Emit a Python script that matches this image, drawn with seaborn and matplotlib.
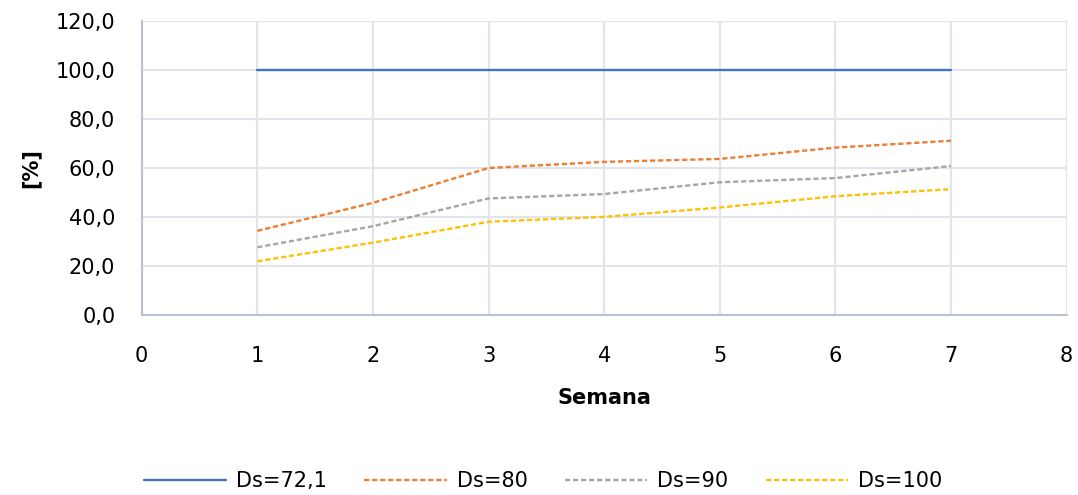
import matplotlib
matplotlib.use("Agg")
import matplotlib.pyplot as plt
import seaborn as sns
import pandas as pd
from matplotlib.ticker import FuncFormatter
from matplotlib.lines import Line2D

semana = [1, 2, 3, 4, 5, 6, 7]
ds72 = [100.0, 100.0, 100.0, 100.0, 100.0, 100.0, 100.0]
ds80 = [34.4, 45.8, 60.0, 62.5, 63.7, 68.3, 71.1]
ds90 = [27.7, 36.3, 47.6, 49.4, 54.2, 55.9, 60.8]
ds100 = [22.0, 29.6, 38.1, 40.1, 43.9, 48.5, 51.4]
series_names = ["Ds=72,1", "Ds=80", "Ds=90", "Ds=100"]
x_ticks = [0, 1, 2, 3, 4, 5, 6, 7, 8]
y_ticks = [0, 20, 40, 60, 80, 100, 120]

sns.set_theme(style="white")
plt.rcParams['font.family'] = ['DejaVu Sans']
plt.rcParams['text.color'] = 'black'
plt.rcParams['axes.labelcolor'] = 'black'

df = pd.DataFrame({"Semana": semana * 4,
                   "val": ds72 + ds80 + ds90 + ds100,
                   "serie": sum([[n] * len(semana) for n in series_names], [])})

W, H = 1078, 495
fig = plt.figure(figsize=(W / 100, H / 100), dpi=100)
left, right, top, bottom = 141.7, 1066.6, 20.7, 315.3
ax = fig.add_axes([left / W, 1 - bottom / H, (right - left) / W, (bottom - top) / H])

colors = ["#4472C4", "#ED7D31", "#A5A5A5", "#FFC000"]
lw = 1.7
dash = [2.2, 1.2]
sns.lineplot(data=df, x="Semana", y="val", hue="serie", hue_order=series_names,
             palette=colors, ax=ax, linewidth=lw, legend=False)
for i, line in enumerate(ax.get_lines()):
    if i > 0:
        line.set_dashes(dash)

ax.set_xlim(0, 8)
ax.set_ylim(0, 120)
ax.set_xticks(x_ticks)
ax.set_yticks(y_ticks)
ax.yaxis.set_major_formatter(FuncFormatter(lambda v, p: f"{v:.1f}".replace(".", ",")))
ax.grid(True, color="#E1E5EB", linewidth=1.5)
ax.set_axisbelow(True)
for s in ["top", "right"]:
    ax.spines[s].set_visible(False)
for s in ["left", "bottom"]:
    ax.spines[s].set_color("#B8C2D0")
    ax.spines[s].set_linewidth(1.5)
ax.tick_params(axis="both", labelsize=15, length=0, colors="#000000", labelcolor="#000000")
ax.tick_params(axis="y", pad=19)
ax.tick_params(axis="x", pad=22)
ax.set_xlabel("Semana", fontsize=15, fontweight="bold", labelpad=16, color="black")
ax.set_ylabel("[%]", fontsize=15, fontweight="bold", labelpad=11, color="black")

handles = []
for i, c in enumerate(colors):
    h = Line2D([0], [0], color=c, linewidth=lw)
    if i > 0:
        h.set_dashes(dash)
    handles.append(h)
leg = fig.legend(handles, series_names, loc="center", bbox_to_anchor=(543 / W, 1 - 481 / H),
                 ncol=4, frameon=False, fontsize=15, handlelength=3.95, columnspacing=1.8,
                 handletextpad=0.48, borderpad=0, borderaxespad=0)
for t in leg.get_texts():
    t.set_color("black")

fig.savefig("out.png", dpi=100, facecolor="white")
